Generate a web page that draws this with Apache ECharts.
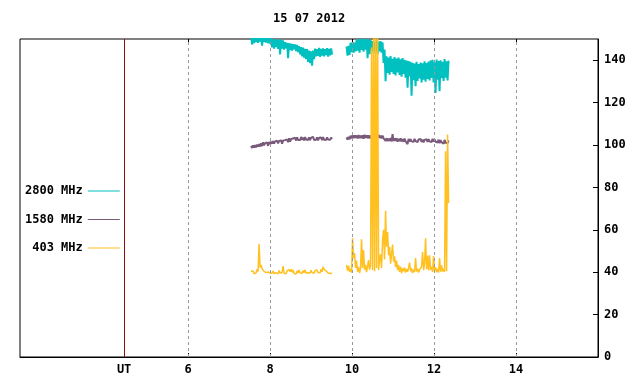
<!DOCTYPE html>
<html><head><meta charset="utf-8">
<script src="https://cdn.jsdelivr.net/npm/echarts@6/dist/echarts.min.js"></script>
<style>html,body{margin:0;padding:0;background:#fff}#c{width:640px;height:384px}</style>
</head><body><div id="c"></div>
<script>
const chartTitle = '15 07 2012';
const seriesNames = ['2800 MHz', '1580 MHz', '403 MHz'];
const seriesColors = ['#00C0C0', '#7A5A7A', '#FFC020'];
const seriesWidths = [2, 2, 1.5];
const xTickValues = [6, 8, 10, 12, 14];
const utHour = 4.44;
const utLabel = 'UT';
const yTickValues = [0, 20, 40, 60, 80, 100, 120, 140];
const xMin = 1.9, xMax = 16, yMin = 0, yMax = 150;

// sampling: one sample per 0.0244 h (~1.46 min)
const sampleStepHours = 0.0244;
const seg1StartHour = 7.537;
const seg2StartHour = 9.866;

// 2800 MHz
const teal1 = [152,147.4,151,148,152,148.5,151,148.2,152,148.8,
151,146.9,152,148.5,151,148.3,152,148,151,147.8,
150.2,146,149.8,145.5,150,146.2,149.5,145.3,149.8,142.7,
149.6,145.5,149.4,145,148.5,145.6,148.2,141,148,144.8,
147.8,144.5,147.6,145.2,147.4,144.3,147.2,143.8,146.6,142.8,
146.2,141.8,146,141.2,145.4,140.5,145.2,139.2,144.5,138.6,
144.2,137.4,144.6,140.5,145.5,141.8,145.2,142,145.8,141.6,
145.4,142.2,145.6,141.8,145.2,142.4,145.7,141.7,145.4,142.3,
145.6,142.6];
const teal2 = [146.5,142.2,146.8,142.5,148.2,143.8,148.5,143.5,148.3,144.2,
149.6,144.5,150,143.6,149.8,144.8,150.2,144,149.7,145,
150,141,149.8,142.8,149.5,144.6,149,143.2,148.6,144.5,
149.2,142.8,148.8,144.2,149,143.5,148.5,138.7,145,130.1,
141.8,134,141.2,133.2,141.9,134.5,140.6,133.5,141.5,132.8,
140.8,134.2,141.2,133,140.4,132.2,141,133.5,140.2,131.8,
139.8,127,139.6,132.4,139.2,123.3,138.8,130.6,138.4,127.7,
139.3,130.2,138.2,131.4,138.9,129.5,138.5,130.8,139.5,129.9,
138.6,131.2,139.4,130.4,139.8,131.6,140.2,129.5,139,124.6,
140.3,130.8,139.6,125.4,140,131.5,139.3,130.2,140.5,131.8,
139.5,130.5,139.8];

// 1580 MHz
const purple1 = [99.6,98.6,99.8,98.8,99.9,98.9,100.2,99.2,100.4,99.3,
100.8,99.5,101.3,99.8,100.9,100,101.2,99.6,101.4,100.4,
101.6,100.6,101.8,100.7,101.7,100.9,102,100.8,101.9,101,
102.2,100.6,102.1,101.2,102.3,101.4,102.6,101.3,103.2,101.6,
102.8,101.9,103.1,102.2,103.4,102.1,103.6,102.4,103.3,102.3,
103.8,102.5,103.5,102.2,103.7,102.6,103.4,102.4,103.6,102.3,
103.5,102.6,103.8,102.4,103.3,102.5,103.6,102.2,103.4,102.6,
103.5,102.3,103.7,102.5,103.4,102.4,103.6,102.6,103.3,102.5,
103.5,102.8];
const purple2 = [103.6,102.5,103.8,102.7,104.4,103.1,104.5,103.2,104.6,103.3,
104.5,103.1,104.7,103.3,104.4,103.2,104.6,103,104.8,103.4,
104.5,103.2,104.6,103.1,104.4,103.3,104.7,103,104.5,103.2,
104.6,103.4,104.8,103.3,104.5,103.1,104.4,103.2,103.4,101.9,
103.2,101.8,103,102,103.3,101.7,105.1,101.9,103.1,102,
103.2,101.6,102.9,101.8,103.1,101.7,102.8,101.5,103,101.8,
102.7,100.4,102.9,101.6,102.8,101.7,102.6,101.5,102.9,101.8,
102.7,101.4,102.6,101.7,102.8,101.5,102.5,101.2,102.4,101.6,
102.7,101.5,102.8,101.7,102.6,101.4,102.9,101.6,102.7,101.5,
102.4,101.2,102.5,100.8,102.3,101.3,102.1,100.6,102.4,101,
101.9,100.9,102.2];

// 403 MHz
const gold1 = [40.5,39.8,40.6,39.3,40.2,39.6,41.4,40.3,53.3,42.2,
43.4,41.6,42.4,40.4,41.2,39.8,40.5,40.1,40.8,39.6,
40.4,39.5,40.6,39.4,40.3,39.7,40.5,39.2,40.8,39.6,
40.4,39.9,42.9,39.5,40.3,39.3,40.7,39.8,41.2,40.2,
41.4,40,41,39.4,40.2,39.1,40.6,39.6,41,39.8,
40.4,39.4,40.8,39.8,41.1,39.6,40.5,39.7,40.3,39.6,
40.9,39.8,40.4,39.5,40.8,39.9,41,39.8,40.3,39.7,
41.4,40.2,42.6,41.4,42.2,40.6,41.3,39.6,40.5,39.4,
40.1,39.5];
const gold2 = [43.5,40.8,43,40.2,41.5,39.8,56,46.5,49,42,
45.5,40.2,42.5,39.6,41.8,55.5,42,50.4,41.2,43.5,
40,42.8,45.7,41.2,43,146,41,160,40.5,160,
42,160,41,46,48.5,42,55,60,46,69,
52,59,48,52,44,48.5,53,45,47.5,42.5,
45.5,41,43.4,40.2,42.6,39.5,41.8,40.4,42.2,39.8,
41.5,40.2,42,44.5,40.5,41.9,39.6,41.2,40.1,46.7,
40.3,41.6,39.8,41.2,40.4,42.6,49.6,41,44,56,
41.4,47.8,40.8,48,41.2,42.6,40.1,47.6,40.6,42.4,
40,41.5,39.8,46.7,40.2,43.2,40.4,41.6,40.2,97,
40.5,105,72.6];

function buildSeries(a, b) {
  const out = a.map((v, i) => [seg1StartHour + i * sampleStepHours, v]);
  const end1 = seg1StartHour + (a.length - 1) * sampleStepHours;
  out.push([(end1 + seg2StartHour) / 2, null]);
  b.forEach((v, i) => out.push([seg2StartHour + i * sampleStepHours, v]));
  return out;
}

const FONT = 'DejaVu Sans Mono';
const txt = { fontFamily: FONT, fontWeight: 'bold', fontSize: 12, color: '#000' };
const chart = echarts.init(document.getElementById('c'), null, { renderer: 'canvas' });

const dataSets = [buildSeries(teal1, teal2), buildSeries(purple1, purple2), buildSeries(gold1, gold2)];

const option = {
  animation: false,
  backgroundColor: '#fff',
  title: { text: chartTitle, left: 273, top: 13, padding: 0, textStyle: Object.assign({}, txt) },
  legend: {
    orient: 'vertical', left: 25, top: 185, padding: 0, align: 'right',
    itemWidth: 32, itemHeight: 14, itemGap: 16.5,
    icon: 'path://M0,0H32V1H0Z',
    data: seriesNames, textStyle: Object.assign({}, txt), selectedMode: false
  },
  grid: { left: 20, right: 42, top: 39, bottom: 27, show: true, borderColor: '#000', borderWidth: 1, backgroundColor: 'transparent' },
  xAxis: [{
    type: 'value', min: xMin, max: xMax, position: 'bottom',
    axisLine: { show: true, lineStyle: { color: '#000' } },
    axisTick: { show: true, inside: true, length: 4, customValues: xTickValues, lineStyle: { color: '#000' } },
    axisLabel: { customValues: [utHour].concat(xTickValues), margin: 7, formatter: v => (Math.abs(v - utHour) < 1e-6 ? utLabel : String(v)), ...txt },
    splitLine: { show: false }
  }, {
    type: 'value', min: xMin, max: xMax, position: 'top',
    axisLine: { show: false },
    axisTick: { show: true, inside: true, length: 4, customValues: xTickValues, lineStyle: { color: '#000' } },
    axisLabel: { show: false }, splitLine: { show: false }
  }],
  yAxis: {
    type: 'value', min: yMin, max: yMax, interval: 20, position: 'right',
    axisLine: { show: true, lineStyle: { color: '#000' } },
    axisTick: { show: true, inside: true, length: 5, customValues: yTickValues, lineStyle: { color: '#000' } },
    axisLabel: { customValues: yTickValues, margin: 6, ...txt },
    splitLine: { show: false }
  },
  series: [
    {
      type: 'line', name: '_grid', data: [], silent: true,
      markLine: {
        silent: true, symbol: ['none', 'none'], label: { show: false }, animation: false,
        data: xTickValues.map(h => ({ xAxis: h, lineStyle: { color: '#999', type: [3, 3], width: 1 } }))
          .concat([{ xAxis: utHour, lineStyle: { color: '#8B1010', type: 'solid', width: 1 } }])
      }
    }
  ].concat(seriesNames.map((n, k) => ({
    type: 'line', name: n, data: dataSets[k], symbol: 'none', showSymbol: false,
    sampling: null, connectNulls: false, clip: true,
    lineStyle: { color: seriesColors[k], width: seriesWidths[k] }, itemStyle: { color: seriesColors[k] }
  })))
};
chart.setOption(option);
</script></body></html>
